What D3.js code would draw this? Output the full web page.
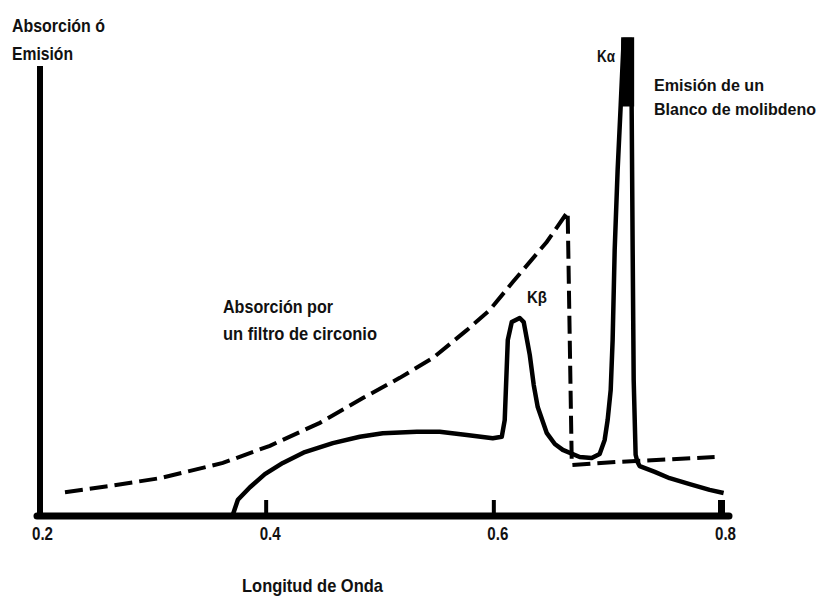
<!DOCTYPE html>
<html>
<head>
<meta charset="utf-8">
<script src="https://cdn.jsdelivr.net/npm/d3@7"></script>
<style>
  html, body { margin: 0; padding: 0; background: #fff; }
  svg { display: block; }
  .lbl { font-family: 'Liberation Sans Narrow', 'Arial Narrow', 'Liberation Sans', sans-serif; font-weight: bold; fill: #111; }
</style>
</head>
<body>
<svg id="chart" width="824" height="597"></svg>
<script>
// Wavelength ticks (x axis)
const tickValues = [0.2, 0.4, 0.6, 0.8];
const tickLabels = ["0.2", "0.4", "0.6", "0.8"];

// Emission spectrum of a molybdenum target: [wavelength, intensity]
const emissionX = [0.3713, 0.3756, 0.3862, 0.3993, 0.4151, 0.4344, 0.4590, 0.4827, 0.5029, 0.5328,
  0.5529, 0.5767, 0.5995, 0.6074, 0.6100, 0.6127, 0.6162, 0.6232, 0.6267, 0.6320,
  0.6355, 0.6390, 0.6470, 0.6540, 0.6610, 0.6759, 0.6864, 0.6934, 0.6978, 0.7004,
  0.7031, 0.7048, 0.7066, 0.7092, 0.7119, 0.7145,
  0.7215, 0.7215, 0.7224, 0.7233, 0.7250, 0.7266,
  0.7286, 0.7418, 0.7549, 0.7725, 0.7900, 0.8023];
const emissionY = [0.4, 3.6, 6.4, 9.3, 11.8, 14.2, 16.2, 17.6, 18.4, 18.7,
  18.7, 18.0, 17.3, 17.6, 21.3, 39.1, 43.1, 44.0, 43.1, 35.8,
  29.1, 24.2, 18.4, 16.0, 14.7, 13.1, 12.9, 13.8, 16.9, 21.3,
  28.0, 39.1, 59.1, 76.9, 91.3, 105.8,
  105.8, 91.3, 59.1, 30.2, 13.6, 12.0,
  11.1, 9.8, 8.4, 7.1, 5.8, 5.1];

// Kα line cap (solid top of the peak)
const capX = [0.7180, 0.7180];
const capY = [106.4, 91.0];

// Absorption of a zirconium filter: [wavelength, absorption]
const absorptionX = [0.2237, 0.2632, 0.3071, 0.3624, 0.4037, 0.4476, 0.4854, 0.5178, 0.5468, 0.5767,
  0.5969, 0.6171, 0.6469, 0.6653, 0.6689, 0.6689, 0.7083, 0.7944];
const absorptionY = [5.3, 6.7, 8.4, 11.8, 15.6, 20.7, 26.2, 30.7, 35.1, 41.3,
  45.8, 52.0, 60.9, 67.6, 11.8, 11.3, 12.0, 13.1];

const svg = d3.select("#chart");

const x = d3.scaleLinear().domain([0.2, 0.8]).range([38, 721]);
const y = d3.scaleLinear().domain([0, 100]).range([516, 66]);

const line = d3.line().x(d => x(d[0])).y(d => y(d[1]));

// Axes
svg.append("line")
  .attr("x1", 40).attr("x2", 40)
  .attr("y1", y(100)).attr("y2", y(0) + 3)
  .attr("stroke", "#000").attr("stroke-width", 6);

svg.append("line")
  .attr("x1", 37).attr("x2", x(0.8) + 8)
  .attr("y1", y(0)).attr("y2", y(0))
  .attr("stroke", "#000").attr("stroke-width", 7)
  .attr("stroke-linecap", "round");

const axis = d3.axisBottom(x)
  .tickValues(tickValues)
  .tickFormat((d, i) => tickLabels[i])
  .tickSizeInner(-16)
  .tickSizeOuter(0)
  .tickPadding(11);

const gx = svg.append("g")
  .attr("transform", `translate(0,${y(0)})`)
  .call(axis);
gx.select(".domain").remove();
gx.selectAll(".tick line")
  .attr("stroke", "#000")
  .attr("stroke-width", d => d === 0.8 ? 7 : 4)
  .attr("opacity", d => d === 0.2 ? 0 : 1);
gx.selectAll(".tick text")
  .attr("class", "lbl")
  .attr("dx", 4)
  .attr("textLength", 21)
  .attr("lengthAdjust", "spacingAndGlyphs")
  .style("font-size", "19px");

// Absorption curve (dashed)
svg.append("path")
  .datum(absorptionX.map((v, i) => [v, absorptionY[i]]))
  .attr("d", line)
  .attr("fill", "none")
  .attr("stroke", "#000")
  .attr("stroke-width", 4)
  .attr("stroke-dasharray", "18,7");

// Emission curve (solid)
svg.append("path")
  .datum(emissionX.map((v, i) => [v, emissionY[i]]))
  .attr("d", line)
  .attr("fill", "none")
  .attr("stroke", "#000")
  .attr("stroke-width", 4.5)
  .attr("stroke-linejoin", "round");

svg.append("path")
  .datum(capX.map((v, i) => [v, capY[i]]))
  .attr("d", line)
  .attr("stroke", "#000")
  .attr("stroke-width", 13);

// Annotations (condensed to the widths they occupy on the page)
const labels = [
  { t: "Absorción ó", x: 12, y: 32, s: 19, w: 93 },
  { t: "Emisión", x: 12, y: 60, s: 19, w: 61 },
  { t: "Emisión de un", x: 654, y: 91, s: 16.5, w: 110 },
  { t: "Blanco de molibdeno", x: 654, y: 115, s: 16.5, w: 162 },
  { t: "Absorción por", x: 223, y: 313, s: 19, w: 110 },
  { t: "un filtro de circonio", x: 223, y: 340, s: 19, w: 154 },
  { t: "Longitud de Onda", x: 242, y: 592, s: 19, w: 141 },
  { t: "Kα", x: 597, y: 62, s: 16, w: 18 },
  { t: "Kβ", x: 527, y: 303, s: 17, w: 20 }
];
svg.selectAll("text.ann")
  .data(labels)
  .enter().append("text")
  .attr("class", "lbl ann")
  .attr("x", d => d.x).attr("y", d => d.y)
  .attr("textLength", d => d.w)
  .attr("lengthAdjust", "spacingAndGlyphs")
  .style("font-size", d => d.s + "px")
  .text(d => d.t);
</script>
</body>
</html>
